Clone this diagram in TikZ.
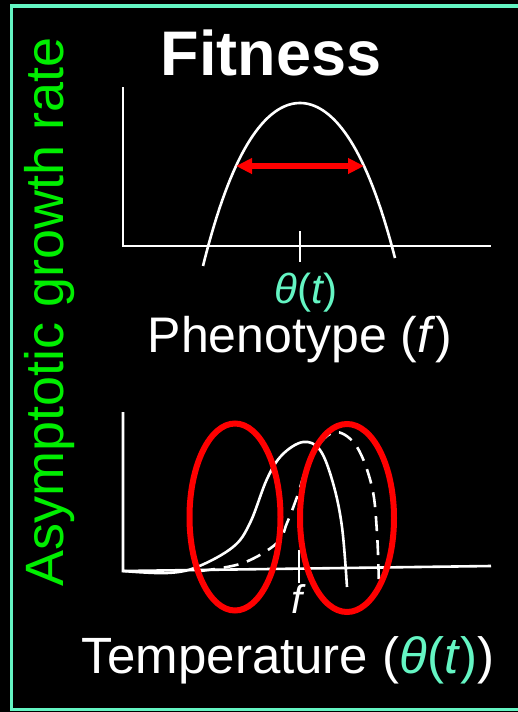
\documentclass[tikz,border=0pt]{standalone}
\usepackage{fontspec}
\setmainfont{Liberation Sans}
\usetikzlibrary{arrows.meta,positioning,shapes.geometric,calc}
\definecolor{aqua}{RGB}{100,245,195}
\definecolor{brightgreen}{RGB}{0,238,0}

\begin{document}
\begin{tikzpicture}[
        x=1pt, y=-1pt,
        axis/.style={draw=white, line width=2.6pt},
        curve/.style={draw=white, line width=2.6pt},
        ring/.style={draw=red, line width=6pt, ellipse, inner sep=0pt},
        label/.style={text=white, inner sep=0pt, anchor=base}
    ]
    \useasboundingbox (0,0) rectangle (518,712);
    \clip (0,0) rectangle (518,712);
    \fill[black] (0,0) rectangle (518,712);
    \draw[aqua, line width=3.5pt] (11.5,6) rectangle (545,709.5);

    % titles
    \node[label, font=\bfseries\fontsize{63}{70}\selectfont] (title) at (271,75) {Fitness};
    \node[label, text=brightgreen, rotate=90, font=\fontsize{54}{60}\selectfont] (ylabel) at (63,312) {Asymptotic growth rate};

    % upper panel: fitness vs phenotype
    \coordinate (o1) at (123,246);
    \draw[axis] (123,87) -- (o1) -- (491,246);
    \draw[axis] (300,231) -- (300,262);
    \draw[curve] plot[domain=-97:95, samples=70] ({300+\x}, {103+138.8*(\x/100)*(\x/100)+36.56*(\x/100)*(\x/100)*(\x/100)*(\x/100)});
    \coordinate (wleft) at (236,166);
    \coordinate (wright) at (364,166);
    \draw[red, line width=6pt, {Triangle[length=16pt, width=15pt]}-{Triangle[length=16pt, width=15pt]}] (wleft) -- (wright);
    \node[label, text=aqua, font=\fontsize{42}{48}\selectfont] (theta) at (306,303) {\itshape θ\upshape(\itshape t\upshape)};
    \node[label, font=\fontsize{50}{56}\selectfont] (phen) at (300,352) {Phenotype (\textit{f})};

    % lower panel: growth rate vs temperature
    \coordinate (o2) at (123,571);
    \draw[axis] (123,412) -- (o2) -- (491,566);
    \draw[axis] (299,550) -- (299,583);
    \draw[curve] plot[smooth, tension=0.6] coordinates {(123,571) (167,573) (197,567) (233,547) (250,523) (267,479) (282,455) (303,442) (320,450) (333,483) (342,527) (347,587)};
    \draw[curve, dash pattern=on 15pt off 9pt] plot[smooth, tension=0.6] coordinates {(200,571) (243,563) (277,543) (287,523) (297,497) (307,467) (320,443) (337,432) (357,447) (372,487) (377,533) (379,587)};
    \node[ring, minimum width=91pt, minimum height=187pt] (ringlow) at (235,517) {};
    \node[ring, minimum width=94pt, minimum height=188pt] (ringhigh) at (347,518) {};
    \node[label, font=\itshape\fontsize{40}{46}\selectfont] (fmark) at (297,613) {f};
    \node[label, font=\fontsize{51}{58}\selectfont] (temp) at (288,673) {Temperature (\textcolor{aqua}{\textit{θ}(\textit{t})})};
\end{tikzpicture}
\end{document}
